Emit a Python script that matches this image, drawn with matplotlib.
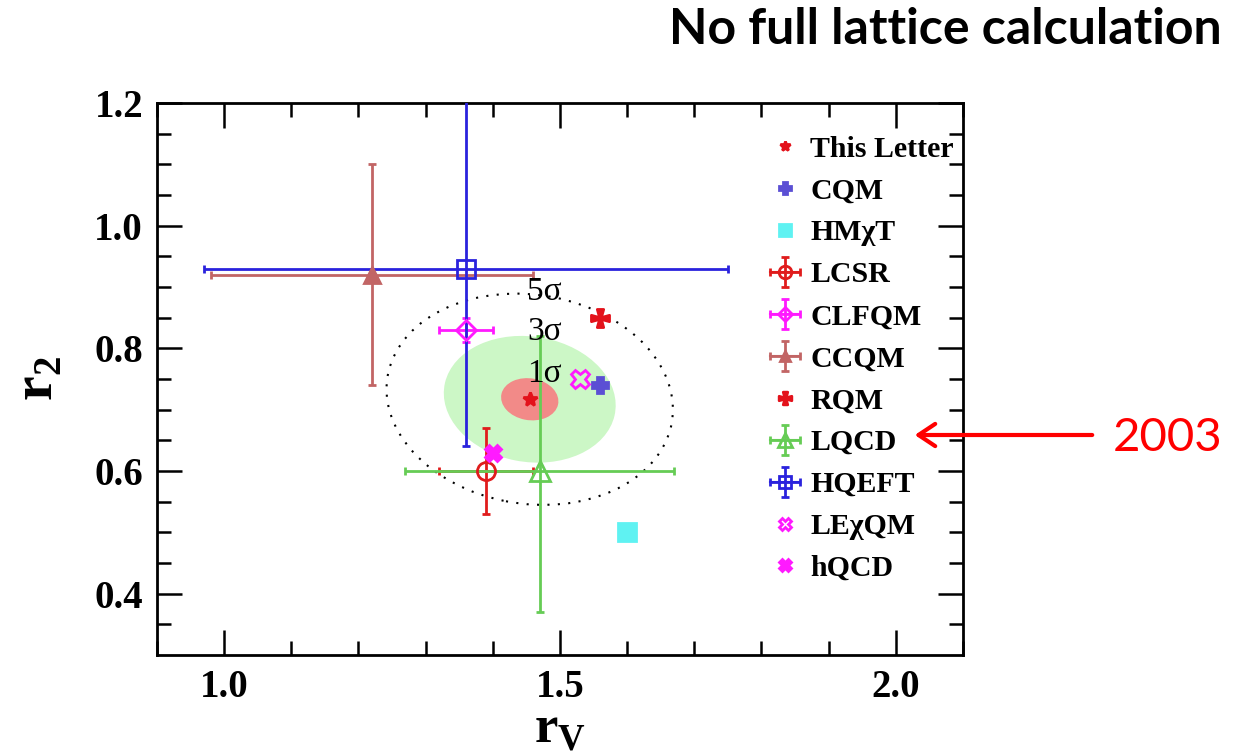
import matplotlib
matplotlib.use("Agg")
import matplotlib.pyplot as plt
import numpy as np
from matplotlib.patches import Ellipse, FancyArrowPatch
from matplotlib.path import Path

# model predictions and measurement for (r_V, r_2)
labels = ["This Letter", "CQM", "HMχT", "LCSR", "CLFQM", "CCQM",
          "RQM", "LQCD", "HQEFT", "LEχQM", "hQCD"]
rv = [1.455, 1.56, 1.60, 1.39, 1.36, 1.22, 1.56, 1.47, 1.36, 1.53, 1.40]
r2 = [0.717, 0.74, 0.50, 0.60, 0.83, 0.92, 0.85, 0.60, 0.93, 0.75, 0.63]
rv_err = [0, 0, 0, 0.07, 0.04, 0.24, 0, 0.20, 0.39, 0, 0]
r2_err_lo = [0, 0, 0, 0.07, 0.02, 0.18, 0, 0.23, 0.29, 0, 0]
r2_err_hi = [0, 0, 0, 0.07, 0.02, 0.18, 0, 0.22, 0.29, 0, 0]

# contour of this measurement
sig_rv = 0.043
sig_r2 = 0.034
n_sigma = [5, 3, 1]

# flared cross for RQM
maltese = Path([(-0.1, 0.1), (-0.35, 1), (0.35, 1), (0.1, 0.1), (1, 0.35),
                (1, -0.35), (0.1, -0.1), (0.35, -1), (-0.35, -1), (-0.1, -0.1),
                (-1, -0.35), (-1, 0.35), (-0.1, 0.1)], closed=True)

styles = [
    dict(marker="*", color="#e3121b", ms=10, mfc="#e3121b"),
    dict(marker="P", color="#5b4fd4", ms=12, mfc="#5b4fd4"),
    dict(marker="s", color="#5ff2f2", ms=13, mfc="#5ff2f2"),
    dict(marker="o", color="#e01c1c", ms=13, mfc="none"),
    dict(marker="D", color="#ff1aff", ms=10, mfc="none"),
    dict(marker="^", color="#c26565", ms=11, mfc="#c26565"),
    dict(marker=maltese, color="#e3121b", ms=13, mfc="#e3121b"),
    dict(marker="^", color="#66cc55", ms=14, mfc="none"),
    dict(marker="s", color="#2a22dd", ms=13, mfc="none"),
    dict(marker="X", color="#ff1aff", ms=13, mfc="none"),
    dict(marker="X", color="#ff1aff", ms=12, mfc="#ff1aff"),
]

plt.rcParams["font.family"] = "Liberation Serif"
plt.rcParams["mathtext.fontset"] = "custom"
plt.rcParams["mathtext.rm"] = "Liberation Serif"
plt.rcParams["mathtext.bf"] = "Liberation Serif:bold"

fig = plt.figure(figsize=(12.39, 7.53), dpi=100)
ax = fig.add_axes([0.1267, 0.1301, 0.6505, 0.7331])

# sigma contours
fills = {1: "#f28a88", 3: "#ccf7c6"}
for n in n_sigma:
    if n in fills:
        e = Ellipse((rv[0], r2[0]), 2 * n * sig_rv, 2 * n * sig_r2, angle=-12,
                    facecolor=fills[n], edgecolor="none", zorder=1)
    else:
        e = Ellipse((rv[0], r2[0]), 2 * n * sig_rv, 2 * n * sig_r2, angle=-12,
                    facecolor="none", edgecolor="black", lw=1.5,
                    linestyle=(0, (1, 4)), zorder=1)
    ax.add_patch(e)

sig_text_y = [0.893, 0.827, 0.758]
for n, ty in zip(n_sigma, sig_text_y):
    ax.text(1.451, ty, f"{n}σ", fontsize=24, ha="left", va="center", zorder=5)

handles = []
for i in range(len(labels)):
    st = styles[i]
    if rv_err[i] > 0:
        h = ax.errorbar(rv[i], r2[i], xerr=rv_err[i],
                        yerr=[[r2_err_lo[i]], [r2_err_hi[i]]],
                        marker=st["marker"], color=st["color"], ms=st["ms"],
                        mfc=st["mfc"], mew=2, elinewidth=2, capsize=3,
                        capthick=2, label=labels[i], zorder=3)
    else:
        h, = ax.plot(rv[i], r2[i], linestyle="none", marker=st["marker"],
                     color=st["color"], ms=st["ms"], mfc=st["mfc"], mew=2,
                     label=labels[i], zorder=4)
    handles.append(h)

ax.set_xlim(0.9, 2.1)
ax.set_ylim(0.3, 1.2)
ax.set_xticks([1.0, 1.5, 2.0])
ax.set_xticks(np.arange(0.9, 2.1, 0.1), minor=True)
ax.set_yticks([0.4, 0.6, 0.8, 1.0, 1.2])
ax.set_yticks(np.arange(0.35, 1.2, 0.05), minor=True)
ax.set_xticklabels(["1.0", "1.5", "2.0"])
ax.set_yticklabels(["0.4", "0.6", "0.8", "1.0", "1.2"])
ax.tick_params(which="both", direction="in", top=True, right=True,
               width=1.8, labelsize=28, pad=10)
ax.tick_params(which="major", length=18)
ax.tick_params(which="minor", length=10)
for lab in ax.get_xticklabels() + ax.get_yticklabels():
    lab.set_fontweight("bold")
for sp in ax.spines.values():
    sp.set_linewidth(2)

ax.set_xlabel(r"$\mathbf{r}_\mathbf{V}$", fontsize=38, labelpad=0)
ax.set_ylabel(r"$\mathbf{r}_\mathbf{2}$", fontsize=40, labelpad=22)

ax.legend(handles=handles, labels=labels, loc="upper left",
          bbox_to_anchor=(0.742, 0.968), frameon=False, markerscale=0.7,
          handlelength=1.0, handletextpad=0.35, labelspacing=0.5,
          borderpad=0, prop=dict(family="Liberation Serif", weight="bold",
                                 size=21.5))

fig.text(1222 / 1239, 1 - 30 / 753, "No full lattice calculation",
         ha="right", va="center", fontsize=36, fontweight="bold",
         family="Lato")
fig.text(1222 / 1239, 1 - 438 / 753, "2003", ha="right", va="center",
         fontsize=34, color="#ff0000", family="Lato")
fig.patches.append(FancyArrowPatch(
    (1095 / 1239, 1 - 435 / 753), (912 / 1239, 1 - 435 / 753),
    transform=fig.transFigure, arrowstyle="->,head_length=12,head_width=8",
    color="#ff0000", lw=3, mutation_scale=1))

fig.savefig("out.png", dpi=100)
